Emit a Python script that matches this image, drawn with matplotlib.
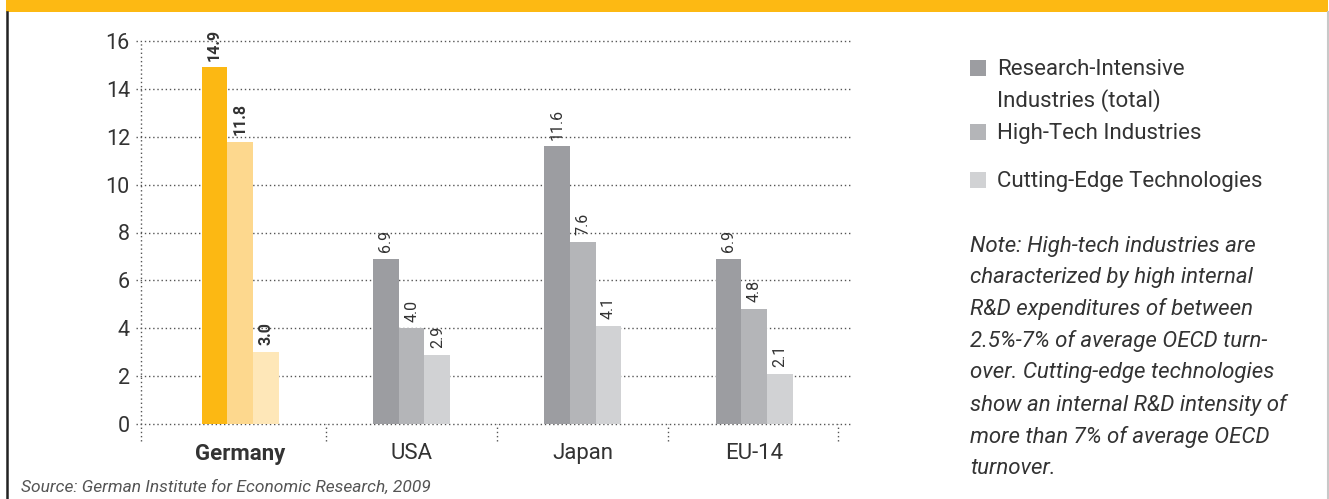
import matplotlib
matplotlib.use("Agg")
import matplotlib.pyplot as plt
from matplotlib.patches import Rectangle
import numpy as np

# ---- data ----
categories = ["Germany", "USA", "Japan", "EU-14"]
research_intensive = [14.9, 6.9, 11.6, 6.9]
high_tech = [11.8, 4.0, 7.6, 4.8]
cutting_edge = [3.0, 2.9, 4.1, 2.1]
series_names = ["Research-Intensive\nIndustries (total)", "High-Tech Industries",
                "Cutting-Edge Technologies"]
y_ticks = [0, 2, 4, 6, 8, 10, 12, 14, 16]
source_text = "Source: German Institute for Economic Research, 2009"
note_text = ("Note: High-tech industries are\ncharacterized by high internal\n"
             "R&D expenditures of between\n2.5%-7% of average OECD turn-\n"
             "over. Cutting-edge technologies\nshow an internal R&D intensity of\n"
             "more than 7% of average OECD\nturnover.")

plt.rcParams['font.family'] = ['Roboto', 'DejaVu Sans']
TXT = '#333333'
orange_cols = ['#FCB813', '#FDD88E', '#FEE7B8']
gray_cols = ['#9C9DA1', '#B4B5B8', '#D1D2D4']

W, H = 1329, 499
fig = plt.figure(figsize=(W / 100, H / 100), dpi=100)
fig.patch.set_facecolor('white')

def fx(px):
    return px / W

def fy(py):
    return 1 - py / H

# frame: orange band, left black line, right gray line
fig.add_artist(Rectangle((fx(6), fy(12)), fx(1328) - fx(6), fy(0) - fy(12),
                         transform=fig.transFigure, color='#FDB913', lw=0))
fig.add_artist(plt.Line2D([fx(6.5), fx(6.5)], [0, fy(12)], transform=fig.transFigure,
                          color='#222222', lw=1.8))
fig.add_artist(plt.Line2D([fx(1328), fx(1328)], [0, fy(12)], transform=fig.transFigure,
                          color='#c8c8c8', lw=1.5))

ax = fig.add_axes([fx(141), fy(424), fx(850) - fx(141), fy(41) - fy(424)])
ax.set_xlim(-0.58, 3.56)
ax.set_ylim(0, 16)
for s in ax.spines.values():
    s.set_visible(False)

x = np.arange(len(categories))
bw = 0.15
series = [research_intensive, high_tech, cutting_edge]
dot = (0, (1, 2))
gcol = '#555555'

# grid lines
for t in y_ticks:
    ax.plot([-0.61, 3.56], [t, t], ls=dot, color=gcol, lw=1.0, clip_on=False, zorder=1)
# y axis & separators
ax.plot([-0.58, -0.58], [-0.7, 16], ls=dot, color=gcol, lw=1.0, clip_on=False, zorder=1)
for sx in [0.5, 1.5, 2.5, 3.49]:
    ax.plot([sx, sx], [-0.7, 0], ls=dot, color=gcol, lw=1.0, clip_on=False, zorder=1)

for si, vals in enumerate(series):
    cols = [orange_cols[si]] + [gray_cols[si]] * 3
    xs = x + (si - 1) * bw
    ax.bar(xs, vals, width=bw, color=cols, zorder=3, lw=0)
    for ci, (xx, v) in enumerate(zip(xs, vals)):
        ax.text(xx, v + 0.28, f"{v:.1f}", rotation=90, ha='center', va='bottom',
                fontsize=11.5, color=TXT,
                fontweight='bold' if ci == 0 else 'normal', zorder=4)

ax.set_yticks(y_ticks)
ax.set_yticklabels([str(t) for t in y_ticks], fontsize=15.5, color=TXT)
ax.set_xticks(x)
ax.set_xticklabels(categories, fontsize=16, color=TXT)
ax.get_xticklabels()[0].set_fontweight('bold')
ax.tick_params(axis='y', length=0, pad=8)
ax.tick_params(axis='x', length=0, pad=14)

# legend (manual)
leg_y = [68, 132, 180]
for i, (name, yy) in enumerate(zip(series_names, leg_y)):
    fig.add_artist(Rectangle((fx(970), fy(yy + 8)), fx(16), fy(0) - fy(16),
                             transform=fig.transFigure, color=gray_cols[i], lw=0))
    cy = yy + 2 if '\n' not in name else yy + 17.5
    fig.text(fx(997), fy(cy), name, fontsize=16, color=TXT, va='center',
             ha='left', linespacing=1.5)

fig.text(fx(970), fy(236), note_text, fontsize=16, style='italic', color=TXT,
         va='top', ha='left', linespacing=1.61)
fig.text(fx(21), fy(487), source_text, fontsize=12.5, style='italic', color='#555555',
         va='center', ha='left')

fig.savefig("out.png", dpi=100)
